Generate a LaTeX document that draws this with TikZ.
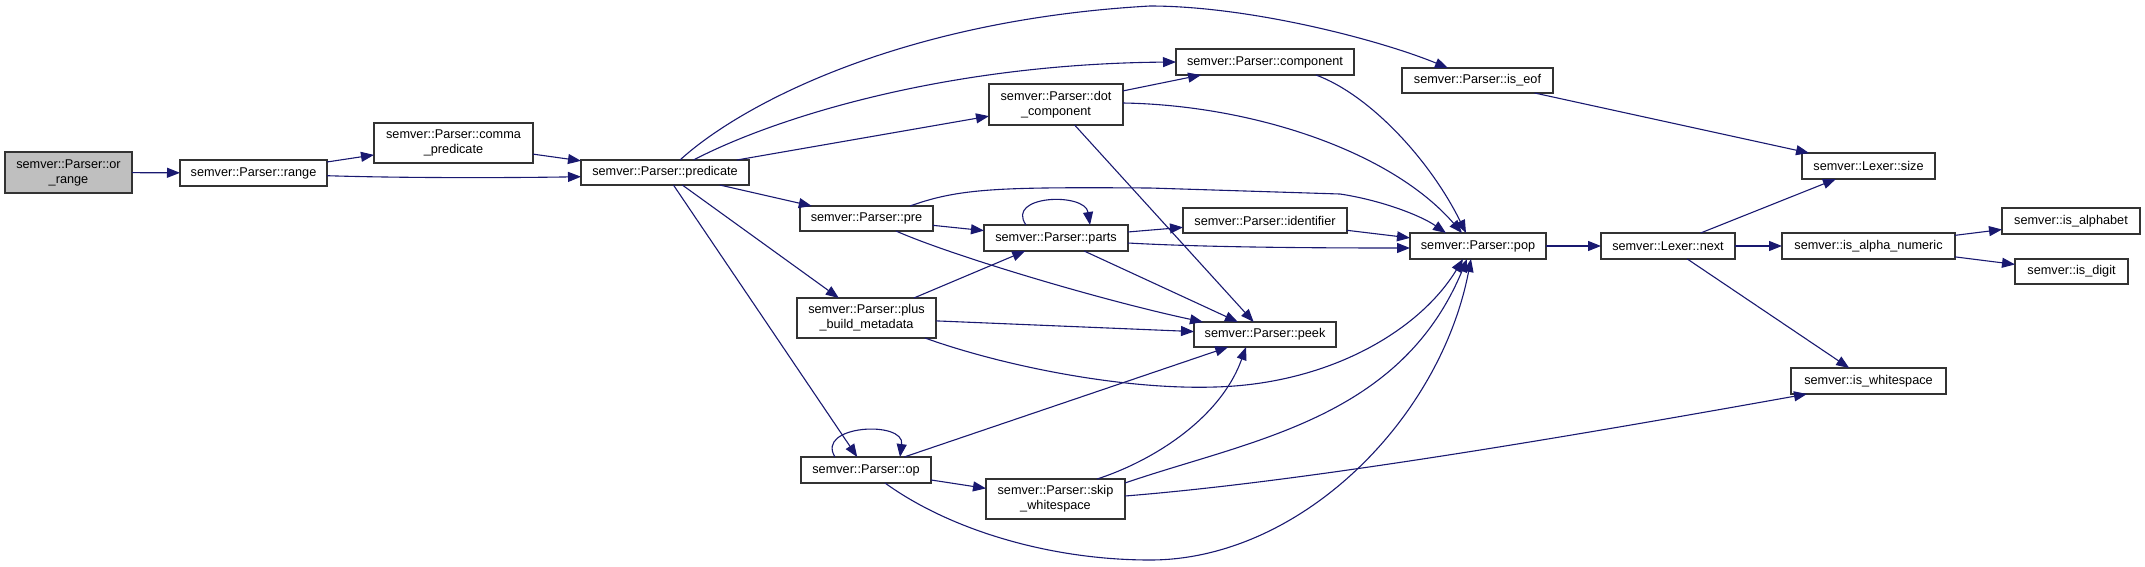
\documentclass[tikz,border=0pt]{standalone}
\usepackage{fontspec}
\setmainfont{Liberation Sans}
\usetikzlibrary{arrows.meta,calc}
\definecolor{edgecol}{HTML}{191970}
\definecolor{bordercol}{HTML}{333333}
\definecolor{mainfill}{HTML}{BFBFBF}
\tikzset{
  fn/.style={draw=bordercol, line width=1.3pt, fill=white, inner sep=0pt, outer sep=0pt,
    align=center, font=\fontsize{12.7}{15}\selectfont, text=black},
  edge/.style={draw=edgecol, line width=1.1pt, -{Triangle[length=13pt,width=10pt]}},
}
\begin{document}
\begin{tikzpicture}[x=1pt,y=-1pt]
\useasboundingbox (0,0) rectangle (2145,566);
% nodes
\node[fn, fill=mainfill, minimum width=127, minimum height=41] (or_range) at (68.5,172.5) {semver::Parser::or\\\_range};
\node[fn, minimum width=147, minimum height=26] (range) at (253.5,173) {semver::Parser::range};
\node[fn, minimum width=159, minimum height=40] (comma) at (453.5,143) {semver::Parser::comma\\\_predicate};
\node[fn, minimum width=168, minimum height=25] (predicate) at (665,172.5) {semver::Parser::predicate};
\node[fn, minimum width=134, minimum height=41] (dot) at (1056,104.5) {semver::Parser::dot\\\_component};
\node[fn, minimum width=178, minimum height=26] (component) at (1265,62) {semver::Parser::component};
\node[fn, minimum width=151, minimum height=25] (is_eof) at (1477.5,80.5) {semver::Parser::is\_eof};
\node[fn, minimum width=133, minimum height=25] (pre) at (866.5,218.5) {semver::Parser::pre};
\node[fn, minimum width=144, minimum height=26] (parts) at (1056,238) {semver::Parser::parts};
\node[fn, minimum width=139, minimum height=40] (plus) at (866.5,318) {semver::Parser::plus\\\_build\_metadata};
\node[fn, minimum width=130, minimum height=26] (op) at (866,470) {semver::Parser::op};
\node[fn, minimum width=139, minimum height=40] (skip) at (1055.5,499) {semver::Parser::skip\\\_whitespace};
\node[fn, minimum width=164, minimum height=25] (identifier) at (1265,220.5) {semver::Parser::identifier};
\node[fn, minimum width=142, minimum height=25] (peek) at (1265,334.5) {semver::Parser::peek};
\node[fn, minimum width=136, minimum height=26] (pop) at (1478,246) {semver::Parser::pop};
\node[fn, minimum width=134, minimum height=26] (next) at (1668,246) {semver::Lexer::next};
\node[fn, minimum width=133, minimum height=26] (size) at (1868.5,166) {semver::Lexer::size};
\node[fn, minimum width=173, minimum height=26] (alnum) at (1868.5,246) {semver::is\_alpha\_numeric};
\node[fn, minimum width=138, minimum height=26] (alpha) at (2071,221) {semver::is\_alphabet};
\node[fn, minimum width=113, minimum height=25] (digit) at (2071.5,271.5) {semver::is\_digit};
\node[fn, minimum width=155, minimum height=26] (ws) at (1868.5,381) {semver::is\_whitespace};
% edges
\draw[edge] (or_range) -- (range);
\draw[edge] (range) -- (comma);
\draw[edge] ($(range)+(73.5,2.7)$) .. controls (400,178) and (500,178) .. ($(predicate)+(-84,4.2)$);
\draw[edge] (comma) -- (predicate);
\draw[edge] ($(predicate)+(15,-12.5)$) .. controls (740,105) and (900,20) .. (1150,6) .. controls (1250,6) and (1380,40) .. ($(is_eof)+(-29.5,-12.5)$);
\draw[edge] ($(predicate)+(28.5,-12.5)$) .. controls (770,120) and (940,64) .. (component.west);
\draw[edge] (predicate) -- (dot);
\draw[edge] (predicate) -- (pre);
\draw[edge] (predicate) -- (plus);
\draw[edge] (predicate) -- (op);
\draw[edge] (dot) -- (component);
\draw[edge] ($(dot)+(67,-1.5)$) .. controls (1250,105) and (1390,150) .. ($(pop)+(-16,-13)$);
\draw[edge] (dot) -- (peek);
\draw[edge] ($(component)+(51,13)$) .. controls (1370,95) and (1430,160) .. ($(pop)+(-12,-13)$);
\draw[edge] (is_eof) -- (size);
\draw[edge] (pre) -- (parts);
\draw[edge] ($(pre)+(43.5,-12.5)$) .. controls (960,188) and (1000,187) .. (1150,188) -- (1340,194) .. controls (1380,200) and (1420,215) .. ($(pop)+(-32,-13)$);
\draw[edge] ($(pre)+(29.5,12.5)$) .. controls (950,255) and (1100,300) .. ($(peek)+(-62,-12.5)$);
\draw[edge] ($(parts)+(-30,-13)$) .. controls (1005,195) and (1085,192) .. ($(parts)+(34,-13)$);
\draw[edge] (parts) -- (identifier);
\draw[edge] ($(parts.east)+(0,5)$) .. controls (1200,247) and (1300,248) .. ($(pop.west)+(0,2)$);
\draw[edge] (parts) -- (peek);
\draw[edge] (identifier) -- (pop);
\draw[edge] (plus) -- (parts);
\draw[edge] (plus) -- (peek);
\draw[edge] ($(plus)+(58.5,20)$) .. controls (1000,365) and (1120,390) .. (1215,387) .. controls (1330,384) and (1420,330) .. ($(pop)+(-15,13)$);
\draw[edge] ($(op)+(-31,-13)$) .. controls (815,425) and (905,420) .. ($(op)+(34,-13)$);
\draw[edge] (op) -- (peek);
\draw[edge] (op) -- (skip);
\draw[edge] ($(op)+(19,13)$) .. controls (950,530) and (1050,560) .. (1150,560) .. controls (1300,560) and (1440,420) .. ($(pop)+(-7,13)$);
\draw[edge] ($(skip)+(41.5,-20)$) .. controls (1150,462) and (1220,420) .. ($(peek)+(-19,12.5)$);
\draw[edge] ($(skip)+(69.5,-16)$) .. controls (1250,440) and (1400,420) .. ($(pop)+(-11,13)$);
\draw[edge] ($(skip)+(69.5,-3)$) .. controls (1300,482) and (1550,440) .. ($(ws)+(-61.5,13)$);
\draw[edge] (pop) -- (next);
\draw[edge] (next) -- (size);
\draw[edge] (next) -- (alnum);
\draw[edge] (next) -- (ws);
\draw[edge] (alnum) -- (alpha);
\draw[edge] (alnum) -- (digit);
\end{tikzpicture}
\end{document}
